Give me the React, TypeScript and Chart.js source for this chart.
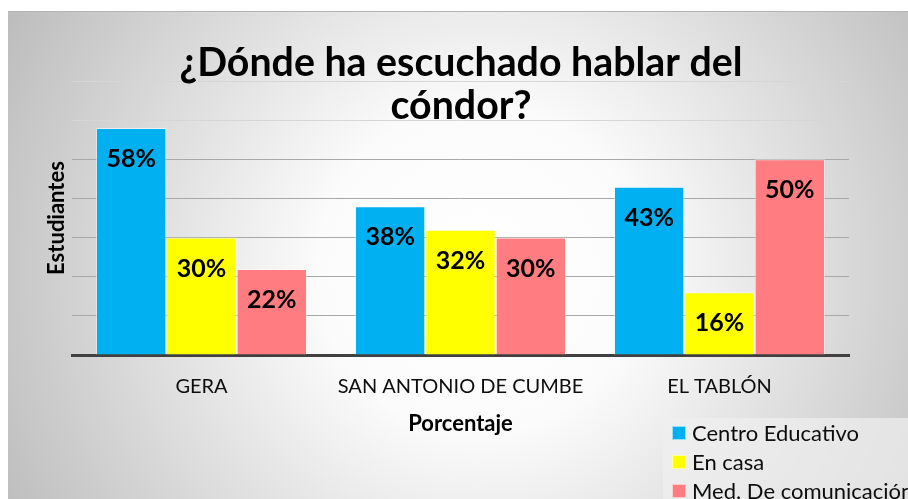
import React, { useEffect, useRef } from "react";
import { Chart, registerables } from "chart.js";

Chart.register(...registerables);

const categories = ["GERA", "SAN ANTONIO DE CUMBE", "EL TABLÓN"];
const seriesNames = ["Centro Educativo", "En casa", "Med. De comunicación"];
const centroEducativo = [58, 38, 43];
const enCasa = [30, 32, 16];
const medComunicacion = [22, 30, 50];
const seriesColors = ["#00B0F0", "#FFFF00", "#FF7C80"];
const titleLines = ["¿Dónde ha escuchado hablar del", "cóndor?"];
const yAxisTitle = "Estudiantes";
const xAxisTitle = "Porcentaje";
const yMin = 0;
const yMax = 70;
const yStep = 10;

const FONT = "Lato, 'Open Sans', sans-serif";

const backgroundPlugin = {
  id: "panelBackground",
  beforeDraw(chart: any) {
    const { ctx, width, height } = chart;
    ctx.save();
    ctx.fillStyle = "#ffffff";
    ctx.fillRect(0, 0, width, height);
    const g = ctx.createRadialGradient(480, 270, 0, 480, 270, 540);
    g.addColorStop(0, "#ffffff");
    g.addColorStop(0.3, "#fbfbfb");
    g.addColorStop(1, "#bcbcbc");
    ctx.fillStyle = g;
    ctx.fillRect(8, 11, width - 8, height - 11);
    ctx.fillStyle = "#b4b4b4";
    ctx.fillRect(8, 11, width - 8, 1);
    // legend box
    ctx.fillStyle = "rgba(240,240,240,0.7)";
    ctx.fillRect(663, 418, width - 663, height - 418);
    ctx.restore();
  },
};

const overlayPlugin = {
  id: "overlayTexts",
  afterDatasetsDraw(chart: any) {
    const { ctx } = chart;
    ctx.save();
    ctx.fillStyle = "#000000";
    ctx.font = `bold 25px ${FONT}`;
    ctx.textAlign = "center";
    ctx.textBaseline = "alphabetic";
    chart.data.datasets.forEach((ds: any, i: number) => {
      const meta = chart.getDatasetMeta(i);
      meta.data.forEach((bar: any, j: number) => {
        ctx.fillText(`${ds.data[j]}%`, bar.x, bar.y + 39);
      });
    });
    ctx.restore();
  },
  afterDraw(chart: any) {
    const { ctx } = chart;
    ctx.save();
    // Title
    ctx.fillStyle = "#000000";
    ctx.font = `bold 41px ${FONT}`;
    ctx.textAlign = "center";
    ctx.textBaseline = "alphabetic";
    const w = ctx.measureText(titleLines[0]).width;
    const sx = 563 / w;
    const cx = 461;
    const baselines = [76, 119];
    titleLines.forEach((line, i) => {
      ctx.save();
      ctx.translate(cx, baselines[i]);
      ctx.scale(sx, 1);
      ctx.fillText(line, 0, 0);
      ctx.restore();
    });
    // Legend
    ctx.font = `22px ${FONT}`;
    ctx.textAlign = "left";
    ctx.textBaseline = "middle";
    const rows = [433, 462, 491];
    seriesNames.forEach((name, i) => {
      ctx.fillStyle = seriesColors[i];
      ctx.fillRect(672, rows[i] - 7, 14, 14);
      ctx.strokeStyle = "rgba(255,255,255,0.6)";
      ctx.lineWidth = 1;
      ctx.strokeRect(672.5, rows[i] - 6.5, 13, 13);
      ctx.fillStyle = "#0d0d0d";
      ctx.fillText(name, 692, rows[i] + 1);
    });
    ctx.restore();
  },
};

export default function App() {
  const canvasRef = useRef<HTMLCanvasElement | null>(null);

  useEffect(() => {
    if (!canvasRef.current) return;
    const datasets = [centroEducativo, enCasa, medComunicacion].map((d, i) => ({
      label: seriesNames[i],
      data: d,
      backgroundColor: seriesColors[i],
      borderColor: "rgba(255,255,255,0.55)",
      borderWidth: 1,
      categoryPercentage: 0.815,
      barPercentage: 1,
    }));
    const chart = new Chart(canvasRef.current, {
      type: "bar",
      data: { labels: categories, datasets },
      plugins: [backgroundPlugin, overlayPlugin],
      options: {
        animation: false,
        responsive: false,
        maintainAspectRatio: false,
        layout: { padding: { top: 81, right: 59, left: 0, bottom: 0 } },
        plugins: {
          legend: { display: false },
          title: { display: false },
          tooltip: { enabled: false },
        },
        scales: {
          x: {
            grid: { display: false, drawTicks: false },
            border: { display: true, color: "#404040", width: 3 },
            ticks: {
              color: "#0d0d0d",
              font: { family: FONT, size: 20 },
              padding: 20,
              maxRotation: 0,
              autoSkip: false,
            },
            title: {
              display: true,
              text: xAxisTitle,
              color: "#000000",
              font: { family: FONT, size: 22, weight: "bold" },
              padding: { top: 0, bottom: 62 },
            },
            afterFit: (scale: any) => {
              scale.height = 144;
            },
          },
          y: {
            min: yMin,
            max: yMax,
            ticks: { display: false, stepSize: yStep },
            grid: {
              drawTicks: false,
              lineWidth: 1,
              color: (c: any) =>
                c.tick && c.tick.value >= 60 ? "#d6d6d6" : "#a8a8a8",
            },
            border: { display: false },
            title: {
              display: true,
              text: yAxisTitle,
              color: "#000000",
              font: { family: FONT, size: 22, weight: "bold" },
              padding: { top: 44, bottom: 0 },
            },
            afterFit: (scale: any) => {
              scale.width = 72;
            },
          },
        },
      } as any,
    });
    return () => chart.destroy();
  }, []);

  return (
    <div style={{ position: "fixed", left: 0, top: 0, width: 908, height: 499 }}>
      <canvas ref={canvasRef} width={908} height={499} />
    </div>
  );
}
